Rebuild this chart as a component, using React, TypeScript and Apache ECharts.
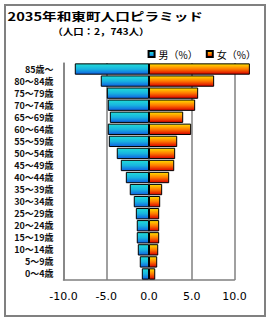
import React, { useEffect, useRef } from "react";
import * as echarts from "echarts";

const categories = [
  "0～4歳", "5～9歳", "10～14歳", "15～19歳", "20～24歳", "25～29歳",
  "30～34歳", "35～39歳", "40～44歳", "45～49歳", "50～54歳", "55～59歳",
  "60～64歳", "65～69歳", "70～74歳", "75～79歳", "80～84歳", "85歳～",
];
const maleValues = [0.84, 1.08, 1.31, 1.43, 1.43, 1.54, 1.78, 2.25, 2.71, 3.3, 3.77, 4.7, 4.82, 4.58, 4.82, 4.93, 5.64, 8.68];
const femaleValues = [0.73, 0.96, 1.08, 1.19, 1.19, 1.19, 1.31, 1.54, 2.36, 2.95, 3.06, 3.3, 4.93, 4.0, 5.4, 5.75, 7.62, 11.8];
const xTicks = { min: -10, max: 10, interval: 5 };
const titleText = "2035年和東町人口ピラミッド";
const subtitleText = "（人口：2，743人）";
const legendNames = ["男（%）", "女（%）"];

const CJK = '"Noto Sans CJK JP", "Noto Sans", sans-serif';

export default function App() {
  const ref = useRef<HTMLDivElement>(null);
  useEffect(() => {
    if (!ref.current) return;
    const chart = echarts.init(ref.current, null, { renderer: "svg" });
    const maleGrad = new echarts.graphic.LinearGradient(0, 0, 0, 1, [
      { offset: 0, color: "#22dcd8" },
      { offset: 0.5, color: "#18b4e0" },
      { offset: 1, color: "#1060e0" },
    ]);
    const femaleGrad = new echarts.graphic.LinearGradient(0, 0, 0, 1, [
      { offset: 0, color: "#ffe000" },
      { offset: 0.5, color: "#ff7a00" },
      { offset: 1, color: "#d80000" },
    ]);
    chart.setOption({
      animation: false,
      grid: { left: 63.5, right: 35.5, top: 63, bottom: 40, containLabel: false },
      legend: {
        data: legendNames,
        right: 9,
        top: 44,
        icon: "rect",
        itemWidth: 6,
        itemHeight: 6,
        itemGap: 8,
        textStyle: { fontFamily: CJK, fontSize: 10, color: "#000", padding: [0, 0, 0, -1] },
      },
      xAxis: {
        type: "value",
        min: xTicks.min,
        max: xTicks.max,
        interval: xTicks.interval,
        axisLine: { show: true, lineStyle: { color: "#808080", width: 1.5 } },
        axisTick: { show: false },
        splitLine: { show: true, lineStyle: { color: "#808080", width: 1.5 } },
        axisLabel: {
          formatter: (v: number) => v.toFixed(1),
          fontFamily: "DejaVu Sans",
          fontSize: 11,
          color: "#000",
          margin: 11,
        },
      },
      yAxis: {
        type: "category",
        data: categories,
        axisLine: { show: true, onZero: false, lineStyle: { color: "#808080", width: 1.5 } },
        axisTick: { show: false },
        axisLabel: { fontFamily: CJK, fontSize: 9, fontWeight: "bold", color: "#111", margin: 10 },
      },
      series: [
        {
          name: legendNames[0],
          type: "bar",
          data: maleValues.map((v) => -v),
          barGap: "-100%",
          barCategoryGap: "6%",
          itemStyle: { color: maleGrad, borderColor: "#000", borderWidth: 1 },
        },
        {
          name: legendNames[1],
          type: "bar",
          data: femaleValues,
          clip: false,
          barGap: "-100%",
          barCategoryGap: "6%",
          itemStyle: { color: femaleGrad, borderColor: "#000", borderWidth: 1 },
        },
      ],
      graphic: [
        {
          type: "rect",
          shape: { x: 5, y: 5, width: 260, height: 311 },
          style: { fill: "none", stroke: "#808080", lineWidth: 2 },
          silent: true,
        },
        {
          type: "text",
          x: 7.5,
          y: 16.5,
          scaleX: 1.33,
          style: {
            text: titleText,
            x: 0,
            y: 0,
            font: `bold 11px ${CJK}`,
            fill: "#000",
            textAlign: "left",
            textVerticalAlign: "middle",
          },
        },
        {
          type: "text",
          x: 101,
          y: 31,
          scaleX: 1.15,
          style: {
            text: subtitleText,
            x: 0,
            y: 0,
            font: `bold 9px ${CJK}`,
            fill: "#000",
            textAlign: "center",
            textVerticalAlign: "middle",
          },
        },
      ],
    });
    return () => chart.dispose();
  }, []);
  return (
    <div
      ref={ref}
      style={{ position: "absolute", left: 0, top: 0, width: 270, height: 320, background: "#fff" }}
    />
  );
}
